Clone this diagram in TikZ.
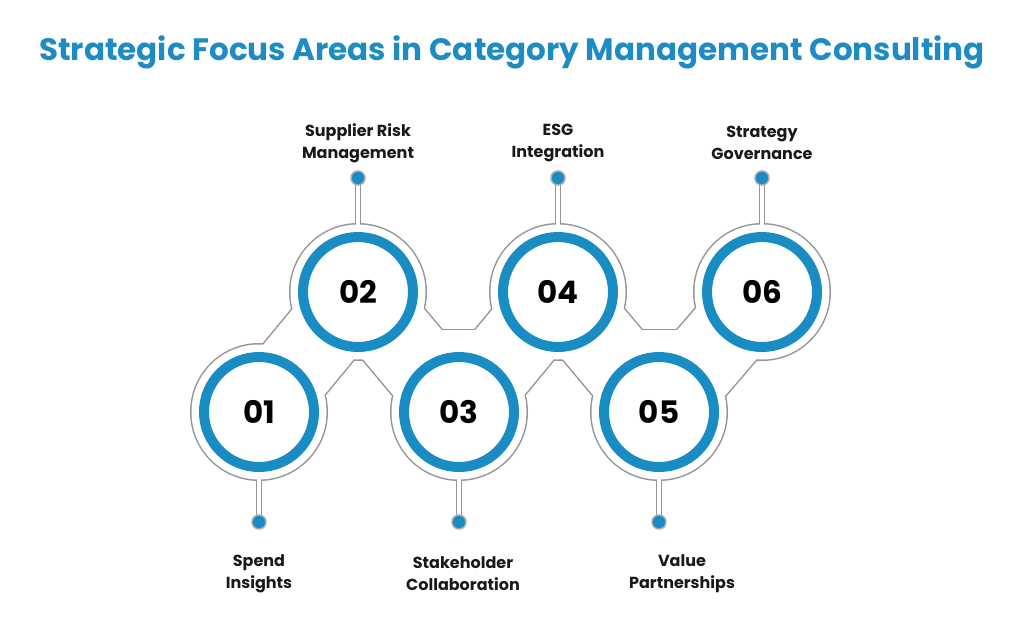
\documentclass[tikz,border=0pt]{standalone}
\usepackage{fontspec}
\setmainfont{Poppins}
\definecolor{tblue}{RGB}{30,140,195}
\definecolor{ring}{RGB}{25,140,195}
\definecolor{gline}{RGB}{150,150,150}
\begin{document}
\begin{tikzpicture}[x=1pt,y=-1pt,
  lab/.style={font=\fontsize{16}{22}\selectfont\bfseries, align=center, text=black!90},
  num/.style={circle, draw=ring, line width=10pt, minimum size=110pt, fill=white, font=\fontsize{31}{31}\selectfont\bfseries},
  dotn/.style={circle, fill=ring, draw=gline!80, line width=1.5pt, minimum size=14pt, inner sep=0pt}]
\useasboundingbox (0,0) rectangle (1024,627);
\node[font=\fontsize{31}{34}\selectfont\bfseries, text=tblue] (title) at (512,52) {Strategic Focus Areas in Category Management Consulting};
% positions
\coordinate (c1) at (259,412); \coordinate (c2) at (358,292); \coordinate (c3) at (459,412);
\coordinate (c4) at (558,292); \coordinate (c5) at (659,412); \coordinate (c6) at (762,292);
\coordinate (d1) at (259,522); \coordinate (d2) at (358,178); \coordinate (d3) at (459,522);
\coordinate (d4) at (558,178); \coordinate (d5) at (659,522); \coordinate (d6) at (762,178);
\coordinate (b1) at (300,343); \coordinate (b6) at (720,343);
% gray outline layer
\draw[gline, line width=82pt, line join=round] (c1) -- (c2) -- (c3) -- (c4) -- (c5) -- (c6);
\draw[gline, line width=29pt] (b1) -- (b6);
\foreach \i in {1,...,6} {\fill[gline] (c\i) circle (69);
  \draw[gline, line width=6pt] (c\i) -- (d\i);}
% white layer
\draw[white, line width=79pt, line join=round] (c1) -- (c2) -- (c3) -- (c4) -- (c5) -- (c6);
\draw[white, line width=26pt] (b1) -- (b6);
\foreach \i in {1,...,6} {\fill[white] (c\i) circle (67.5);
  \draw[white, line width=3.5pt] (c\i) -- (d\i);}
% rings
\node[num] (n1) at (c1) {01}; \node[num] (n2) at (c2) {02}; \node[num] (n3) at (c3) {03};
\node[num] (n4) at (c4) {04}; \node[num] (n5) at (c5) {05}; \node[num] (n6) at (c6) {06};
\foreach \i in {1,...,6} {\node[dotn] (p\i) at (d\i) {};}
% labels
\node[lab] (l2) at (358,143) {Supplier Risk\\Management};
\node[lab] (l4) at (558,143) {ESG\\Integration};
\node[lab] (l6) at (762,143) {Strategy\\Governance};
\node[lab] (l1) at (259,574) {Spend\\Insights};
\node[lab] (l3) at (463,574) {Stakeholder\\Collaboration};
\node[lab] (l5) at (682,574) {Value\\Partnerships};
\end{tikzpicture}
\end{document}
